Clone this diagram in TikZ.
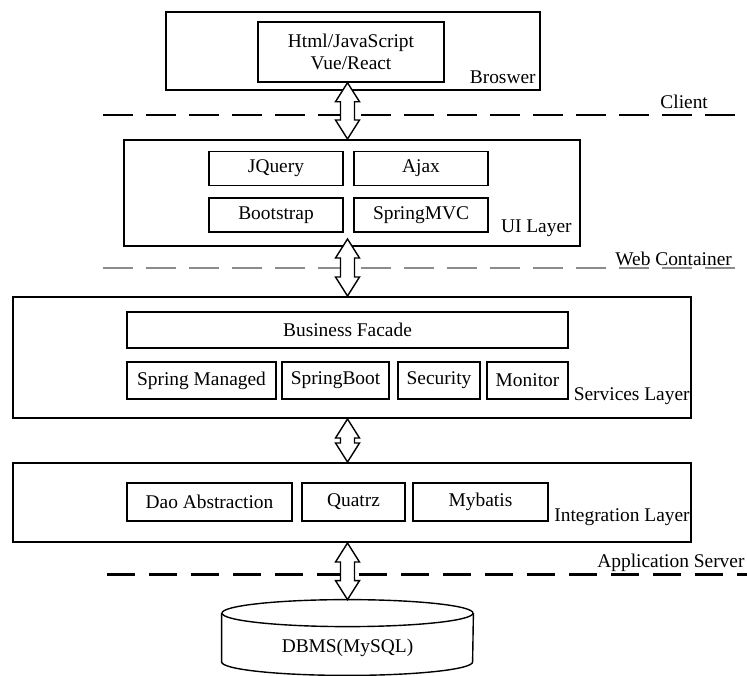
\documentclass[tikz,border=0pt]{standalone}
\usepackage{fontspec}
\setmainfont{Liberation Serif}
\usepackage{tikz}
\usetikzlibrary{calc}
\definecolor{sepgray}{rgb}{0.55,0.55,0.55}

% hollow two-headed block arrow between two points
\newcommand\dbarrow[2]{%
  \draw[blockarrow] let \p1=(#1), \p2=(#2) in
    (\x1,\y1) -- (\x1+6pt,\y1-9.5pt) -- (\x1+3.5pt,\y1-9.5pt) -- (\x1+3.5pt,\y2+9.5pt)
    -- (\x1+6pt,\y2+9.5pt) -- (\x1,\y2) -- (\x1-6pt,\y2+9.5pt) -- (\x1-3.5pt,\y2+9.5pt)
    -- (\x1-3.5pt,\y1-9.5pt) -- (\x1-6pt,\y1-9.5pt) -- cycle;}

\begin{document}
\begin{tikzpicture}[line cap=butt,line join=miter,x=0.5pt,y=-0.5pt,
    layer/.style={draw,line width=1pt,inner sep=0pt},
    part/.style={draw,line width=0.7pt,inner sep=0pt,minimum height=17pt,
      font=\fontsize{9.7}{11}\selectfont},
    tag/.style={inner sep=0pt,font=\fontsize{9.7}{11}\selectfont},
    blockarrow/.style={draw,fill=white,line width=0.7pt},
    sepline/.style={line width=1pt,dash pattern=on 15pt off 6.5pt},
    dbline/.style={line width=0.7pt}]
      \useasboundingbox (0,0) rectangle (747,675);
      % client / browser
      \node[layer,minimum width=187pt,minimum height=39pt] (browser) at (353,51) {};
      \node[part,minimum width=93pt,minimum height=30pt,align=center] (html) at (351,52) {Html/JavaScript\\Vue/React};
      \node[tag,anchor=base east] (browsertag) at (536,83) {Broswer};
      \draw[sepline] (103,115) -- (747,115);
      \node[tag,anchor=base west] (clienttag) at (660,108) {Client};
      % UI layer
      \node[layer,minimum width=228pt,minimum height=53pt] (ui) at (352,193) {};
      \node[part,minimum width=67pt] (jquery) at (276,168.5) {JQuery};
      \node[part,minimum width=67pt] (ajax) at (421,168.5) {Ajax};
      \node[part,minimum width=67pt] (bootstrap) at (276,215) {Bootstrap};
      \node[part,minimum width=67pt] (springmvc) at (421,215) {SpringMVC};
      \node[tag,anchor=base east] (uitag) at (572,232) {UI Layer};
      \draw[sepline,color=sepgray,line width=0.6pt] (103,268) -- (747,268);
      \node[tag,anchor=base west] (webtag) at (615,265) {Web Container};
      % services layer
      \node[layer,minimum width=339pt,minimum height=60.5pt] (services) at (352,357.5) {};
      \node[part,minimum width=220.5pt,minimum height=18pt] (facade) at (347.5,330) {Business Facade};
      \node[part,minimum width=74.5pt,minimum height=18.5pt] (managed) at (201.5,380.5) {Spring Managed};
      \node[part,minimum width=53.5pt,minimum height=18.5pt] (springboot) at (335.5,380.5) {SpringBoot};
      \node[part,minimum width=41pt,minimum height=18.5pt] (security) at (439,380.5) {Security};
      \node[part,minimum width=40.5pt,minimum height=18.5pt] (monitor) at (527.5,380.5) {Monitor};
      \node[tag,anchor=base east] (servicestag) at (690,400) {Services Layer};
      % integration layer
      \node[layer,minimum width=339pt,minimum height=39.5pt] (integration) at (352,502.5) {};
      \node[part,minimum width=82.5pt,minimum height=19pt] (dao) at (209.5,502) {Dao Abstraction};
      \node[part,minimum width=51.5pt,minimum height=19pt] (quatrz) at (353.5,502) {Quatrz};
      \node[part,minimum width=67.5pt,minimum height=19pt] (mybatis) at (480.5,502) {Mybatis};
      \node[tag,anchor=base east] (integrationtag) at (690,521) {Integration Layer};
      \draw[sepline,line width=1.5pt,dash pattern=on 14pt off 7pt] (107,574) -- (747,574);
      \node[tag,anchor=base west] (apptag) at (597,567) {Application Server};
      % database
      \node[inner sep=0pt,minimum width=125.5pt,minimum height=37.5pt] (db) at (347.5,637.5) {};
      \draw[dbline] ([yshift=-6.75pt]db.north west) -- ([yshift=6.75pt]db.south west)
        arc[start angle=180,end angle=360,x radius=62.75pt,y radius=6.75pt]
        -- ([yshift=-6.75pt]db.north east);
      \draw[dbline] ([yshift=-6.75pt]db.north) ellipse [x radius=62.75pt,y radius=6.75pt];
      \node[tag] (dbname) at (347.5,648) {DBMS(MySQL)};
      % arrows between the layers
      \dbarrow{html.south -| db.north}{ui.north -| db.north}
      \dbarrow{$(ui.south -| db.north)+(0,-8)$}{services.north -| db.north}
      \dbarrow{services.south -| db.north}{integration.north -| db.north}
      \dbarrow{integration.south -| db.north}{db.north}
\end{tikzpicture}
\end{document}
